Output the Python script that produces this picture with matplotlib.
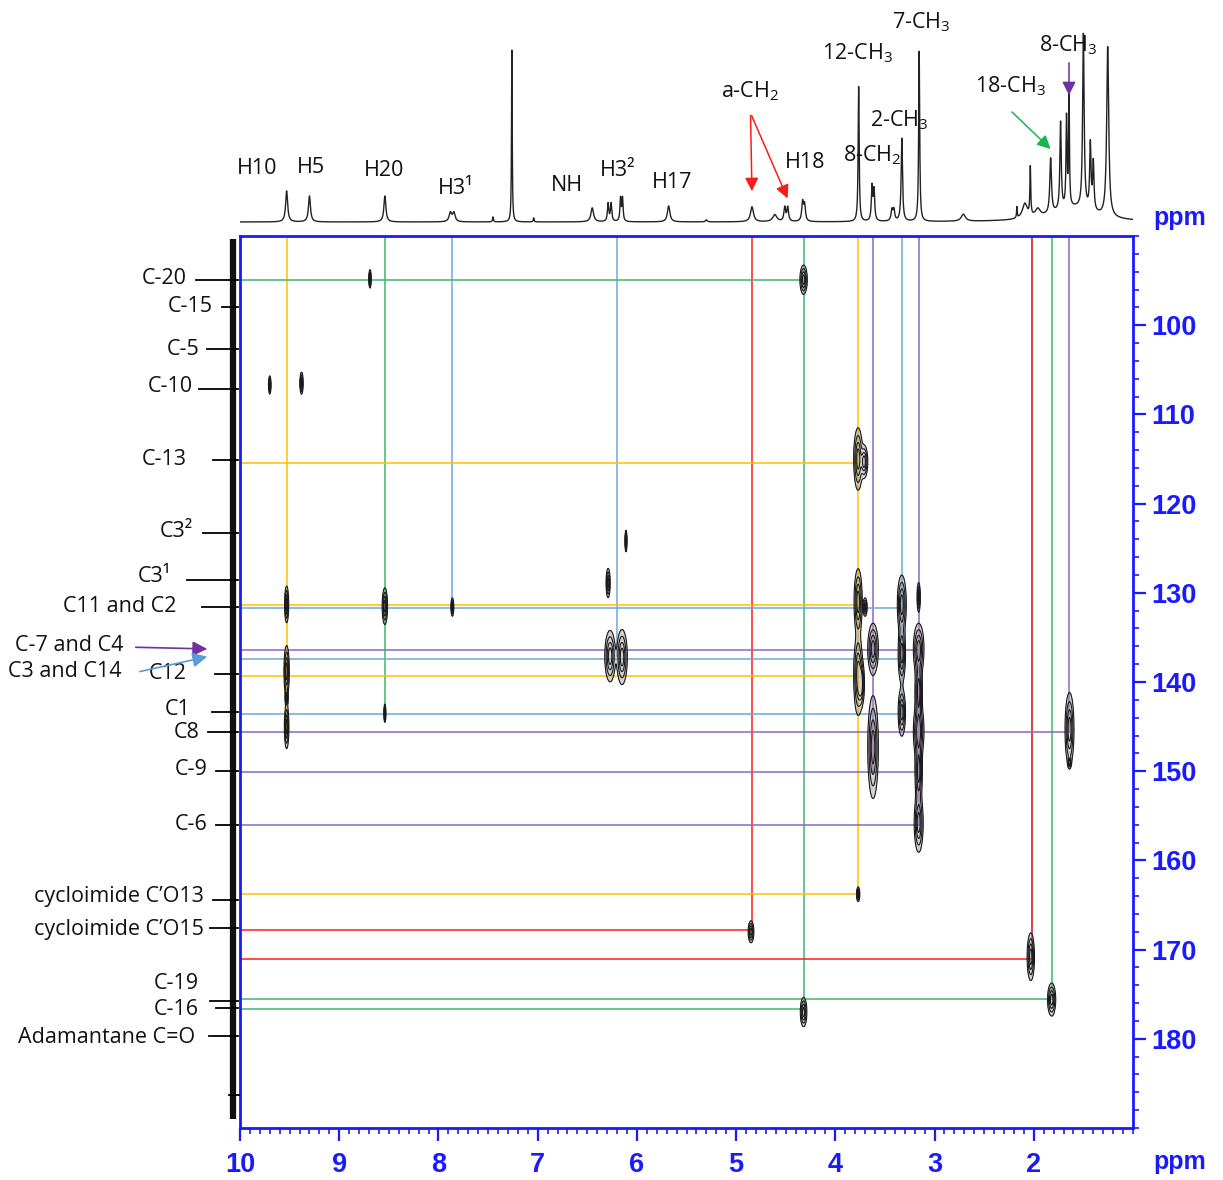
import numpy as np
import matplotlib
matplotlib.use('Agg')
import matplotlib.pyplot as plt

plt.rcParams['font.family'] = ['Open Sans', 'DejaVu Sans']
plt.rcParams['mathtext.fontset'] = 'custom'
plt.rcParams['mathtext.rm'] = 'Open Sans'
plt.rcParams['mathtext.it'] = 'Open Sans:italic'

W, H = 1223, 1180
BLUE = '#1a1aff'
GOLD = '#ffc000'
GREEN = '#3cb96a'
SKY = '#6fa8dc'
RED = '#ff1a1a'
DRED = '#d01010'
PURPLE = '#9065c0'
LABEL_FS = 15.5

''' 1H spectrum (top trace): ppm, height, half width '''
h_ppm = [9.53, 9.30, 8.54, 7.88, 7.845, 7.45, 7.26, 7.04, 6.45, 6.29, 6.26, 6.165, 6.145,
         5.68, 5.30, 4.84, 4.61, 4.51, 4.48, 4.33, 4.31, 3.765, 3.63, 3.61, 3.43, 3.41,
         3.33, 3.155, 2.71, 2.17, 2.09, 2.035, 1.96, 1.83, 1.73, 1.67, 1.645, 1.50,
         1.43, 1.40, 1.255, 1.60]
h_int = [31, 26, 26, 9, 9, 5, 175, 4, 14, 18, 18, 23, 23,
         16, 2, 15, 7, 14, 14, 19, 16, 135, 34, 30, 11, 11,
         83, 172, 7, 11, 15, 48, 8, 55, 88, 90, 115, 175,
         66, 48, 170, 14]
h_hw = [0.012, 0.012, 0.012, 0.015, 0.015, 0.005, 0.004, 0.005, 0.016, 0.008, 0.008, 0.007, 0.007,
        0.015, 0.01, 0.018, 0.025, 0.01, 0.01, 0.01, 0.01, 0.006, 0.008, 0.008, 0.01, 0.01,
        0.008, 0.006, 0.025, 0.004, 0.03, 0.005, 0.03, 0.01, 0.008, 0.006, 0.005, 0.009,
        0.008, 0.008, 0.012, 0.25]

# proton labels over the trace (ppm, height)
top_labels = ['H10', 'H5', 'H20', 'H3¹', 'NH', 'H3²', 'H17', 'a-CH$_2$', 'H18', '8-CH$_2$',
              '12-CH$_3$', '2-CH$_3$', '7-CH$_3$', '18-CH$_3$', '8-CH$_3$']
top_lab_x = [9.83, 9.29, 8.55, 7.83, 6.71, 6.19, 5.64, 4.86, 4.30, 3.63,
             3.78, 3.36, 3.13, 2.24, 1.65]
top_lab_y = [54, 55, 52, 34, 37, 52, 40, 131, 60, 67, 169, 102, 200, 136, 177]

''' 13C labels on the left '''
c_labels = ['C-20', 'C-15', 'C-5', 'C-10', 'C-13', 'C3²', 'C3¹', 'C11 and C2', 'C12',
            'C1', 'C8', 'C-9', 'C-6', 'cycloimide C’O13', 'cycloimide C’O15',
            'C-19', 'C-16', 'Adamantane C=O']
c_ppm = [94.9, 98.0, 102.7, 107.1, 115.1, 123.3, 128.6, 131.6, 139.1,
         143.4, 145.6, 150.0, 156.0, 164.4, 167.6, 175.8, 176.5, 179.7]
c_text_y = [94.8, 97.9, 102.7, 106.9, 115.1, 123.1, 128.2, 131.5, 139.1,
            143.1, 145.7, 149.8, 156.0, 164.0, 167.7, 173.8, 176.7, 179.9]
c_text_x = [187, 213, 200, 193, 187, 193, 171, 176, 187,
            191, 200, 208, 208, 204, 204, 199, 199, 195]
c_lead_x = [196, 222, 207, 199, 213, 203, 187, 202, 215,
            212, 208, 216, 216, 213, 210, 210, 216, 209]

''' HMBC cross peaks: 1H ppm, 13C ppm, widths '''
xp_h = [8.69, 4.32, 9.70, 9.38, 3.77, 3.71, 3.77, 3.70, 3.77, 3.74, 3.77,
        3.62, 3.62, 3.33, 3.33, 3.33, 3.16, 3.16, 3.16, 3.16, 3.16, 3.16,
        1.64, 1.64, 2.03, 1.82, 4.32, 4.85, 9.53, 9.53, 9.53, 9.53,
        8.54, 8.54, 7.86, 6.27, 6.15, 6.29, 6.11]
xp_c = [94.8, 94.9, 106.7, 106.5, 115.0, 115.3, 131.0, 131.6, 139.2, 140.2, 163.8,
        136.3, 147.3, 131.3, 136.8, 143.4, 136.3, 141.0, 145.5, 150.0, 155.8, 130.5,
        145.3, 149.0, 170.8, 175.6, 177.0, 168.0, 131.3, 138.8, 141.8, 145.0,
        131.5, 143.5, 131.6, 137.1, 137.2, 128.9, 124.2]
xp_sh = [0.006, 0.018, 0.006, 0.008, 0.022, 0.018, 0.02, 0.01, 0.022, 0.016, 0.008,
         0.026, 0.026, 0.022, 0.018, 0.018, 0.026, 0.018, 0.026, 0.018, 0.022, 0.008,
         0.022, 0.008, 0.018, 0.02, 0.016, 0.014, 0.01, 0.013, 0.007, 0.011,
         0.013, 0.005, 0.007, 0.026, 0.026, 0.01, 0.005]
xp_sc = [0.5, 0.8, 0.5, 0.6, 1.7, 0.9, 1.8, 0.5, 2.2, 1.2, 0.4,
         1.4, 2.8, 1.6, 1.6, 1.3, 1.4, 1.8, 1.5, 1.8, 1.6, 0.8,
         2.0, 0.3, 1.3, 0.9, 0.8, 0.6, 1.0, 1.4, 0.4, 1.2,
         1.0, 0.5, 0.5, 1.4, 1.5, 0.8, 0.6]

''' correlation guide lines '''
v_h = [9.53, 8.54, 7.86, 6.20, 4.84, 4.32, 3.77, 3.62, 3.33, 3.16, 2.02, 1.82, 1.64]
v_end = [146.0, 143.9, 131.7, 137.1, 167.8, 176.8, 163.8, 150.1, 143.6, 156.0, 171.0, 175.5, 145.6]
v_col = [GOLD, GREEN, SKY, SKY, RED, GREEN, GOLD, PURPLE, SKY, PURPLE, DRED, GREEN, PURPLE]
h_c = [94.9, 115.4, 131.4, 131.7, 136.4, 137.4, 139.3, 143.6, 145.6, 150.1, 156.0,
       163.8, 167.8, 171.0, 175.5, 176.7]
h_end = [4.32, 3.77, 3.77, 3.33, 3.16, 3.33, 3.77, 3.33, 1.64, 3.16, 3.16,
         3.77, 4.84, 2.02, 1.82, 4.32]
h_col = [GREEN, GOLD, GOLD, SKY, PURPLE, SKY, GOLD, SKY, PURPLE, PURPLE, PURPLE,
         GOLD, RED, RED, GREEN, GREEN]

fig = plt.figure(figsize=(W / 100, H / 100), dpi=100)


def px_axes(x0, y0, x1, y1):
    return fig.add_axes([x0 / W, 1 - y1 / H, (x1 - x0) / W, (y1 - y0) / H])


main = px_axes(240, 236, 1133, 1128)
top = px_axes(240, 0, 1133, 228)
left = px_axes(0, 236, 240, 1128)

# --- top 1H trace
xs = np.linspace(10, 1.0, 6000)
spec = np.zeros_like(xs)
for p, a, w in zip(h_ppm, h_int, h_hw):
    spec += a * w ** 2 / ((xs - p) ** 2 + w ** 2)
top.plot(xs, spec, color='#222222', lw=1.0)
top.set_xlim(10, 1)
top.set_ylim(-6, 222)
top.axis('off')
for lab, x, y in zip(top_labels, top_lab_x, top_lab_y):
    top.text(x, y, lab, ha='center', va='center', fontsize=LABEL_FS, color='#111111')
top.text(0.53, 4, 'ppm', ha='center', va='center', fontsize=18, fontweight='bold',
         color=BLUE, family='Liberation Sans', clip_on=False)
arw = dict(arrowstyle='-|>', mutation_scale=20, lw=1.1)
top.annotate('', xy=(4.84, 28), xytext=(4.855, 109), arrowprops=dict(arw, color=RED))
top.annotate('', xy=(4.47, 21), xytext=(4.855, 109), arrowprops=dict(arw, color=RED))
top.annotate('', xy=(1.81, 71), xytext=(2.24, 112), arrowprops=dict(arw, color='#19b34f'))
top.annotate('', xy=(1.645, 124), xytext=(1.645, 162), arrowprops=dict(arw, color='#7030a0'))

# --- main 2D panel
for x, ye, c in zip(v_h, v_end, v_col):
    main.plot([x, x], [90, ye], color=c, lw=1.1, zorder=2)
for y, xe, c in zip(h_c, h_end, h_col):
    main.plot([10, xe], [y, y], color=c, lw=1.1, zorder=2)

gx = np.linspace(10, 1, 1800)
gy = np.linspace(90, 190, 1400)
GX, GY = np.meshgrid(gx, gy)
Z = np.zeros_like(GX)
for px, pc, sx, sc in zip(xp_h, xp_c, xp_sh, xp_sc):
    Z += np.exp(-0.5 * (((GX - px) / sx) ** 2 + ((GY - pc) / sc) ** 2))
main.contourf(GX, GY, Z, levels=[0.12, 50], colors='#9a9a9a', alpha=0.45, zorder=3)
main.contour(GX, GY, Z, levels=[0.12, 0.3, 0.55, 0.8], colors='#1a1a1a',
             linewidths=0.8, zorder=3)

main.set_xlim(10, 1)
main.set_ylim(190, 90)
for s in main.spines.values():
    s.set_color(BLUE)
    s.set_linewidth(2)
main.set_xticks(range(2, 11))
main.set_xticks(np.arange(1, 10.01, 0.1), minor=True)
main.set_yticks(range(100, 181, 10))
main.set_yticks(range(90, 191, 2), minor=True)
main.yaxis.tick_right()
main.tick_params(which='major', direction='out', length=9, width=1.6, color=BLUE,
                 labelcolor=BLUE, labelsize=19.5, pad=4)
main.tick_params(which='minor', direction='out', length=4, width=1.2, color=BLUE)
main.tick_params(axis='x', pad=8)
for lab in main.get_xticklabels() + main.get_yticklabels():
    lab.set_fontweight('bold')
    lab.set_family('Liberation Sans')
main.text(0.53, 193.8, 'ppm', ha='center', va='center', fontsize=18, fontweight='bold',
          color=BLUE, family='Liberation Sans', clip_on=False)

# --- left 13C projection and labels
left.set_xlim(0, 240)
left.set_ylim(190, 90)
left.axis('off')
left.plot([232.5, 232.5], [90.3, 189], color='#111111', lw=4.5, solid_capstyle='butt')
for lab, cp, ty, tx, lx in zip(c_labels, c_ppm, c_text_y, c_text_x, c_lead_x):
    left.plot([lx, 238], [cp, cp], color='black', lw=1.3)
    left.text(tx, ty, lab, ha='right', va='center', fontsize=LABEL_FS, color='#111111')
left.plot([229, 240], [186.3, 186.3], color='black', lw=1.3)
left.text(15, 135.9, 'C-7 and C4', ha='left', va='center', fontsize=LABEL_FS, color='#111111')
left.text(8, 138.8, 'C3 and C14', ha='left', va='center', fontsize=LABEL_FS, color='#111111')
left.annotate('', xy=(210, 136.3), xytext=(133, 136.1),
              arrowprops=dict(arrowstyle='-|>', mutation_scale=22, lw=1.2, color='#7030a0'))
left.annotate('', xy=(210, 137.1), xytext=(137, 138.9),
              arrowprops=dict(arrowstyle='-|>', mutation_scale=22, lw=1.2, color='#5b9bd5'))

fig.savefig('out.png', dpi=100)
